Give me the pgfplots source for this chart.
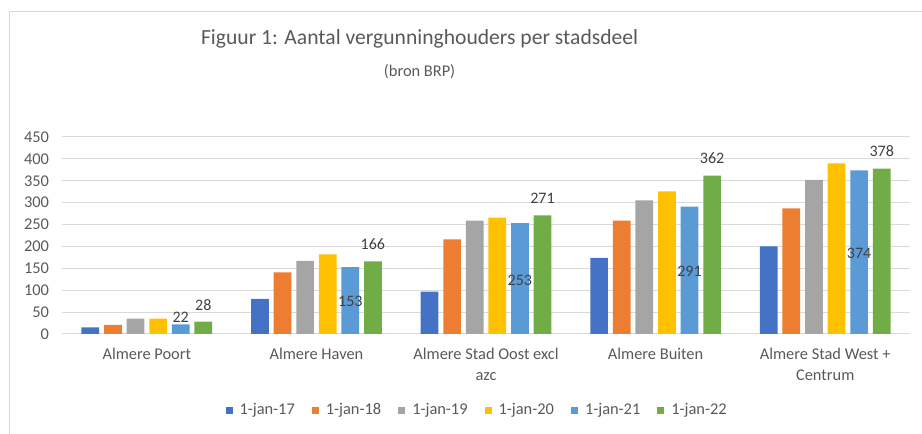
\documentclass[border=0pt]{standalone}
\usepackage{fontspec}
\setmainfont{Carlito}
\usepackage{pgfplots}
\pgfplotsset{compat=1.18}

\definecolor{cA}{HTML}{4472C4}
\definecolor{cB}{HTML}{ED7D31}
\definecolor{cC}{HTML}{A5A5A5}
\definecolor{cD}{HTML}{FFC000}
\definecolor{cE}{HTML}{5B9BD5}
\definecolor{cF}{HTML}{70AD47}
\definecolor{txt}{HTML}{595959}
\definecolor{lbl}{HTML}{404040}
\definecolor{gridc}{HTML}{D9D9D9}

\begin{document}
\begin{tikzpicture}[x=1pt,y=1pt]
\path[use as bounding box] (0,0) rectangle (922,434);
\draw[gridc, line width=1pt] (9.5,0) -- (9.5,422.5) -- (922,422.5);
\node[text=txt, font=\fontsize{21.6}{25}\selectfont] at (419.6,395) {Figuur 1: Aantal vergunninghouders per stadsdeel};
\node[text=txt, font=\fontsize{16.4}{19}\selectfont] at (419.6,362) {(bron BRP)};

\begin{axis}[
at={(62pt,100pt)}, anchor=south west,
scale only axis,
width=848pt, height=197pt,
ybar=4.9pt, bar width=17.7pt,
xmin=-0.5, xmax=4.5, ymin=0, ymax=450,
xtick={0,1,2,3,4},
xticklabels={Almere Poort, Almere Haven, {Almere Stad Oost excl\\azc}, Almere Buiten, {Almere Stad West +\\Centrum}},
ytick={0,50,...,450},
ymajorgrids, major grid style={gridc, line width=1pt},
axis line style={draw=none},
major tick length=0pt,
tick label style={text=txt, font=\fontsize{16.4}{21}\selectfont},
x tick label style={align=center, yshift=-11pt},
y tick label style={xshift=-9.5pt},
/pgf/number format/assume math mode=true,
legend style={at={(0.4807,-0.386)}, anchor=center, draw=none, fill=none,
  font=\fontsize{16.4}{19}\selectfont, text=txt},
legend columns=6,
legend image code/.code={\path (-15pt,0pt) (12pt,0pt); \fill[#1] (0pt,-3.5pt) rectangle (7pt,3.5pt);},
every axis plot/.append style={draw=none},
]
\addplot[fill=cA] coordinates {(0,15) (1,80) (2,97) (3,174) (4,200)};
\addlegendentry{1-jan-17}
\addplot[fill=cB] coordinates {(0,21) (1,141) (2,216) (3,259) (4,287)};
\addlegendentry{1-jan-18}
\addplot[fill=cC] coordinates {(0,35) (1,167) (2,259) (3,305) (4,352)};
\addlegendentry{1-jan-19}
\addplot[fill=cD] coordinates {(0,35) (1,182) (2,266) (3,326) (4,390)};
\addlegendentry{1-jan-20}
\addplot[fill=cE,
  visualization depends on={rawy\as\rawy},
  nodes near coords,
  every node near coord/.append style={anchor=center, text=lbl,
    font=\fontsize{16}{19}\selectfont,
    yshift={ifthenelse(\rawy<50, 7.4, -(\rawy/2+3)*0.43778)}}]
  coordinates {(0,22) (1,153) (2,253) (3,291) (4,374)};
\addlegendentry{1-jan-21}
\addplot[fill=cF, nodes near coords,
  every node near coord/.append style={anchor=center, text=lbl,
    font=\fontsize{16}{19}\selectfont, yshift=17pt}]
  coordinates {(0,28) (1,166) (2,271) (3,362) (4,378)};
\addlegendentry{1-jan-22}
\end{axis}
\end{tikzpicture}
\end{document}
